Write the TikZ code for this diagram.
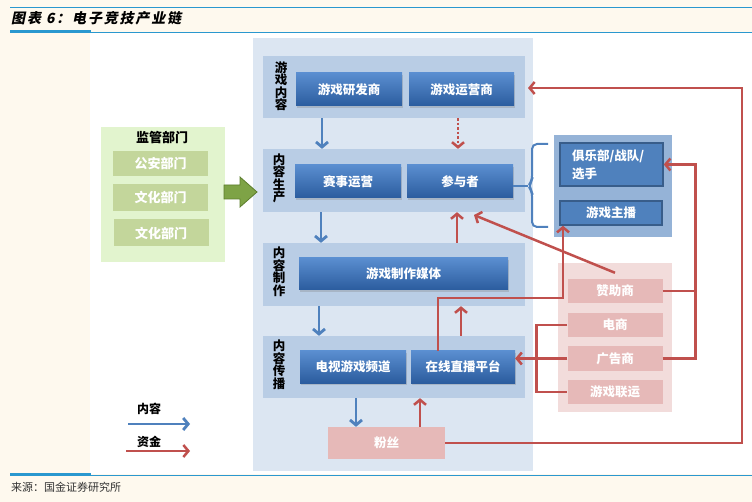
\documentclass[tikz,border=0pt]{standalone}
\usepackage{fontspec}
\newfontfamily\cjk{Noto Sans CJK SC}
\newfontfamily\cjktitle[FakeSlant=0.2,LetterSpace=13]{Noto Sans CJK SC}
\usetikzlibrary{arrows.meta,shadows}
\definecolor{cream}{HTML}{FEF9EE}
\definecolor{rulec}{HTML}{2A98CF}
\definecolor{panel}{HTML}{DCE6F2}
\definecolor{rowbg}{HTML}{B9CDE5}
\definecolor{btop}{HTML}{5A8ED0}
\definecolor{bbot}{HTML}{2B5C9E}
\definecolor{cblue}{HTML}{4F81BD}
\definecolor{cred}{HTML}{C0504D}
\definecolor{gpanel}{HTML}{E2F4CE}
\definecolor{gbox}{HTML}{C3D69B}
\definecolor{garrow}{HTML}{7EA346}
\definecolor{gedge}{HTML}{5C7D2C}
\definecolor{ppanel}{HTML}{F2DCDB}
\definecolor{pbox}{HTML}{E6B9B8}
\definecolor{rpanel}{HTML}{95B3D7}
\definecolor{redge}{HTML}{385D8A}

\begin{document}
\begin{tikzpicture}[x=1pt,y=-1pt,>={Straight Barb[length=5pt,width=12pt]},
  every node/.style={font=\cjk},
  row/.style={fill=rowbg,minimum width=262pt,minimum height=62pt,inner sep=0},
  rowlbl/.style={align=center,inner sep=0,font=\cjk\bfseries\fontsize{12.5}{12.5}\selectfont},
  blk/.style={top color=btop,bottom color=bbot,text=white,minimum height=33pt,inner sep=0,
    font=\cjk\bfseries\fontsize{12.5}{14}\selectfont,
    drop shadow={shadow xshift=1.2pt,shadow yshift=-1.8pt,opacity=.3}},
  gbx/.style={fill=gbox,text=white,minimum width=95pt,minimum height=27pt,inner sep=0,
    font=\cjk\bfseries\fontsize{13}{14}\selectfont},
  pbx/.style={fill=pbox,text=white,minimum width=95pt,minimum height=24pt,inner sep=0,
    font=\cjk\bfseries\fontsize{12.5}{14}\selectfont},
  cbx/.style={fill=cblue,draw=redge,line width=1.5pt,text=white,inner sep=0,
    font=\cjk\bfseries\fontsize{12.5}{18}\selectfont},
  flow/.style={->,cblue,line width=2.8pt},
  cash/.style={cred,line width=2.5pt}]
  \useasboundingbox (0,0) rectangle (752,502);
  \fill[cream] (0,0) rectangle (752,502);
  \fill[white] (90,33) rectangle (752,474);
  \draw[rulec,line width=.8pt] (10,7) -- (752,7);
  \draw[rulec,line width=.8pt] (10,32) -- (752,32);
  \draw[rulec,line width=2.5pt] (10,31.5) -- (91,31.5);
  \draw[rulec,line width=.8pt] (10,475) -- (752,475);
  \draw[rulec,line width=2.5pt] (10,474.5) -- (91,474.5);
  \node[anchor=west,inner sep=0,font=\cjktitle\bfseries\fontsize{14}{16}\selectfont] (ttl) at (11,18) {图表 6：电子竞技产业链};
  \node[anchor=west,inner sep=0,text=black!80,font=\cjk\fontsize{11}{12}\selectfont] (src) at (11,487) {来源：国金证券研究所};

  \fill[panel] (253,38) rectangle (533,471);
  \node[row] (r1) at (394,87) {};
  \node[row,minimum height=63pt] (r2) at (394,180.5) {};
  \node[row,minimum height=63pt] (r3) at (394,274.5) {};
  \node[row] (r4) at (394,367) {};
  \node[rowlbl] (l1) at (281,86) {游\\戏\\内\\容};
  \node[rowlbl] (l2) at (279,178.5) {内\\容\\生\\产};
  \node[rowlbl] (l3) at (279,272) {内\\容\\制\\作};
  \node[rowlbl] (l4) at (279,365) {内\\容\\传\\播};
  \node[blk,minimum width=106pt] (dev) at (349,89.5) {游戏研发商};
  \node[blk,minimum width=105pt] (op) at (461.5,89.5) {游戏运营商};
  \node[blk,minimum width=106pt] (evt) at (348,181.5) {赛事运营};
  \node[blk,minimum width=106pt] (part) at (460,181.5) {参与者};
  \node[blk,minimum width=209pt,minimum height=32pt] (media) at (403.5,274) {游戏制作媒体};
  \node[blk,minimum width=106pt,minimum height=32pt] (tv) at (353,367) {电视游戏频道};
  \node[blk,minimum width=104pt,minimum height=32pt] (live) at (463,367) {在线直播平台};
  \node[pbx,minimum width=117pt,minimum height=32pt] (fans) at (386.5,443) {粉丝};

  \fill[gpanel] (101,127) rectangle (225,262);
  \node[font=\cjk\bfseries\fontsize{13}{14}\selectfont] (gov) at (162,138) {监管部门};
  \node[gbx,minimum height=25pt] (g1) at (160.5,164) {公安部门};
  \node[gbx] (g2) at (160.5,197.5) {文化部门};
  \node[gbx] (g3) at (161,233) {文化部门};
  \filldraw[fill=garrow,draw=gedge,line width=.8pt] (224,185) -- (240,185) -- (240,177) -- (257,192)
    -- (240,207) -- (240,199) -- (224,199) -- cycle;

  \fill[rpanel] (554,135) rectangle (672,237);
  \node[cbx,minimum width=103pt,minimum height=43pt,text width=79pt,align=left] (club) at (611.5,164.5) {俱乐部/战队/\\选手};
  \node[cbx,minimum width=102pt,minimum height=24pt] (anchor) at (611,213) {游戏主播};

  \fill[ppanel] (558,263) rectangle (672,412);
  \node[pbx] (spon) at (615,291) {赞助商};
  \node[pbx] (ecom) at (615,325) {电商};
  \node[pbx] (ad) at (615,358.5) {广告商};
  \node[pbx] (lian) at (615,392) {游戏联运};

  \coordinate (bt) at (528,186);
  \coordinate (ds) at (474,215);
  \coordinate (lk) at (563,298);
  \coordinate (rt) at (742,88);
  \coordinate (opt) at (528,88);
  \draw[cblue,line width=2pt,rounded corners=5pt] (548,144) -| (532,181) -- (bt) -- (532,191) |- (548,227);
  \draw[cblue,line width=2pt] (part.east |- bt) -- (bt);

  \draw[flow] ([xshift=-72pt]r1.south) -- ([xshift=-72pt]r2.north);
  \draw[flow] ([xshift=-73pt]r2.south) -- ([xshift=-73pt]r3.north);
  \draw[flow] ([xshift=-75pt]r3.south) -- ([xshift=-75pt]r4.north);
  \draw[flow] ([xshift=-38pt]r4.south) -- ([xshift=-30.5pt]fans.north);

  \draw[cash,->,dash pattern=on 2.5pt off 2pt] ([xshift=64pt]r1.south) -- ([xshift=64pt]r2.north);
  \draw[cash,->] ([xshift=63pt]r3.north) -- ([xshift=63pt]r2.south);
  \draw[cash,->] ([xshift=67pt]r4.north) -- ([xshift=67pt]r3.south);
  \draw[cash,->] ([xshift=33.5pt]fans.north) -- ([xshift=26pt]r4.south);
  \draw[cash,->] (fans.east) -| (rt) -- (opt);
  \draw[cash,->] ([xshift=-25pt]live.north) |- (lk) -- (lk |- anchor.south);
  \draw[cash,->] ([yshift=6pt]spon.north) -- (ds);
  \draw[cash,->] (spon.east) -- ++(33,0) |- (club.east);
  \draw[cash] (ad.east) -| ([xshift=33pt]spon.east);
  \draw[cash] (ecom.west) -- ++(-31,0) |- (lian.west);
  \draw[cash,->] (ad.west) -- (ad.west -| live.east);

  \node[font=\cjk\bfseries\fontsize{12}{14}\selectfont] (k1) at (149,409) {内容};
  \node[font=\cjk\bfseries\fontsize{12}{14}\selectfont] (k2) at (149,442) {资金};
  \coordinate (k1a) at (128,424);
  \coordinate (k1b) at (190,424);
  \coordinate (k2a) at (126,451);
  \coordinate (k2b) at (190,451);
  \draw[flow] (k1a) -- (k1b);
  \draw[cash,->] (k2a) -- (k2b);
\end{tikzpicture}
\end{document}
